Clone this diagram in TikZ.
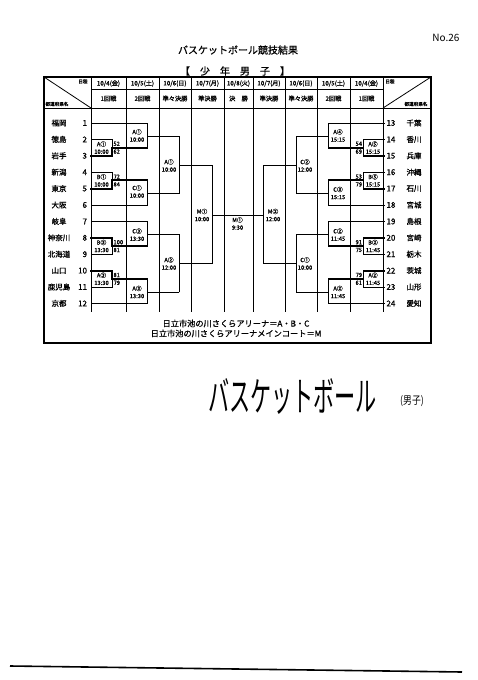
\documentclass[tikz,border=0pt]{standalone}
\usepackage{fontspec}
\newfontfamily\jp{Noto Sans CJK JP}
\newfontfamily\jpb{Noto Sans CJK JP}[FakeBold=0.8]
\newcommand\lblfont{\jpb\fontsize{5.8}{7.5}\selectfont}
\newcommand\teamfont{\jpb\fontsize{7.5}{8}\selectfont}
\newcommand\numfont{\jpb\fontsize{8}{8}\selectfont}
\newcommand\hdfont{\jpb\fontsize{6.2}{7}\selectfont}
\newcommand\tinyfont{\jpb\fontsize{4.6}{5}\selectfont}
\newcommand\halfbracket{%
  \draw[ln] (91,123)--(147,123);
  \draw[ln] (91,139.4)--(112,139.4)--(112,147.6);
  \draw[win] (91,155.8)--(112,155.8)--(112,147.6)--(147,147.6);
  \draw[ln] (147,123)--(147,147.6);
  \draw[ln] (147,136.3)--(179,136.3);
  \draw[ln] (91,172.2)--(112,172.2)--(112,180.4);
  \draw[win] (91,188.6)--(112,188.6)--(112,180.4)--(147,180.4);
  \draw[ln] (91,205)--(147,205)--(147,180.4);
  \draw[ln] (147,193.7)--(179,193.7);
  \draw[ln] (179,136.3)--(179,193.7);
  \draw[ln] (179,165)--(212,165);
  \draw[ln] (91,221.4)--(147,221.4);
  \draw[win] (91,237.8)--(112,237.8)--(112,246)--(147,246);
  \draw[ln] (91,254.2)--(112,254.2)--(112,246);
  \draw[ln] (147,221.4)--(147,246);
  \draw[ln] (147,234.7)--(179,234.7);
  \draw[win] (91,270.6)--(112,270.6)--(112,278.8)--(147,278.8);
  \draw[ln] (91,287)--(112,287)--(112,278.8);
  \draw[ln] (91,303.4)--(147,303.4)--(147,278.8);
  \draw[ln] (147,292.1)--(179,292.1);
  \draw[ln] (179,234.7)--(179,292.1);
  \draw[ln] (179,263.4)--(212,263.4);
  \draw[ln] (212,165)--(212,263.4);
}
\begin{document}
\begin{tikzpicture}[x=1pt,y=-1pt,
  every node/.style={inner sep=0pt,outer sep=0pt},
  ln/.style={line width=0.75pt,line cap=rect},
  win/.style={line width=1.9pt,line cap=rect,line join=miter},
  gridl/.style={line width=0.8pt},
  frame/.style={line width=1.3pt},
  lbl/.style={font=\lblfont,align=center},
  sc/.style={font=\lblfont},
  tname/.style={font=\teamfont},
  tnum/.style={font=\numfont},
  hd/.style={font=\hdfont}]
\useasboundingbox (0,0) rectangle (478,680);
\fill[white] (0,0) rectangle (478,680);

% headings
\node[font=\jp\fontsize{10}{10}\selectfont] (no) at (446,38) {No.26};
\node[font=\jpb\fontsize{10}{10}\selectfont] (title) at (238,50) {バスケットボール競技結果};
\node[font=\jpb\fontsize{10}{10}\selectfont] (sub) at (235,71) {【　少　年　男　子　】};

% table frame and grid
\draw[frame] (44,77) rectangle (431,343);
\draw[gridl] (91,89)--(383,89);
\draw[gridl] (44,108)--(431,108);
\foreach \x in {91,126,159,191,224,253,285,317,350,383}
  \draw[gridl] (\x,77)--(\x,312);
\draw[gridl] (44,77)--(91,108);
\draw[gridl] (383,108)--(431,77);
\node[font=\tinyfont] (hl1) at (83,81.5) {日程};
\node[font=\tinyfont] (hl2) at (57,104) {都道府県名};
\node[font=\tinyfont] (hr1) at (390,81.5) {日程};
\node[font=\tinyfont] (hr2) at (416,104) {都道府県名};

% header dates
\node[hd] (d1) at (108.5,83.5) {10/4(金)};
\node[hd] (d2) at (142.5,83.5) {10/5(土)};
\node[hd] (d3) at (175,83.5) {10/6(日)};
\node[hd] (d4) at (207.5,83.5) {10/7(月)};
\node[hd] (d5) at (238.5,83.5) {10/8(火)};
\node[hd] (d6) at (269,83.5) {10/7(月)};
\node[hd] (d7) at (301,83.5) {10/6(日)};
\node[hd] (d8) at (333.5,83.5) {10/5(土)};
\node[hd] (d9) at (366.5,83.5) {10/4(金)};
% header rounds
\foreach \cx/\r [count=\i] in {108.5/1回戦, 142.5/2回戦, 175/準々決勝, 207.5/準決勝, 238.5/決　勝, 269/準決勝, 301/準々決勝, 333.5/2回戦, 366.5/1回戦}{
  \node[hd] (r\i) at (\cx,98.5) {\r};
}

% teams left
\foreach \n/\nm [count=\i] in {1/福岡,2/徳島,3/岩手,4/新潟,5/東京,6/大阪,7/岐阜,8/神奈川,9/北海道,10/山口,11/鹿児島,12/京都}{
  \pgfmathsetmacro\yy{123+16.4*(\i-1)}
  \node[tname] (L\i) at (59,\yy) {\nm};
  \node[tnum,anchor=east] (LN\i) at (87,\yy) {\n};
}
% teams right
\foreach \n/\nm [count=\i] in {13/千葉,14/香川,15/兵庫,16/沖縄,17/石川,18/宮城,19/島根,20/宮崎,21/栃木,22/茨城,23/山形,24/愛知}{
  \pgfmathsetmacro\yy{123+16.4*(\i-1)}
  \node[tname] (R\i) at (414,\yy) {\nm};
  \node[tnum,anchor=west] (RN\i) at (386.5,\yy) {\n};
}

% brackets
\halfbracket
\begin{scope}[xshift=475.5pt,xscale=-1]
\halfbracket
\end{scope}
\draw[ln] (212,215)--(263.5,215);

% left round 1
\node[lbl] (l11) at (101.5,147.6) {A①\\10:00};
\node[sc,anchor=west] (s1) at (113.5,143.8) {52};
\node[sc,anchor=west] (s2) at (113.5,151.6) {62};
\node[lbl] (l12) at (101.5,180.4) {B①\\10:00};
\node[sc,anchor=west] (s3) at (113.5,176.6) {72};
\node[sc,anchor=west] (s4) at (113.5,184.4) {84};
\node[lbl] (l13) at (101.5,246) {B③\\13:30};
\node[sc,anchor=west] (s5) at (113.5,242.2) {100};
\node[sc,anchor=west] (s6) at (113.5,250) {81};
\node[lbl] (l14) at (101.5,278.8) {A③\\13:30};
\node[sc,anchor=west] (s7) at (113.5,275) {81};
\node[sc,anchor=west] (s8) at (113.5,282.8) {79};
% right round 1
\node[lbl] (r11) at (373,147.6) {A⑤\\15:15};
\node[sc,anchor=east] (s9) at (362,143.8) {54};
\node[sc,anchor=east] (s10) at (362,151.6) {69};
\node[lbl] (r12) at (373,180.4) {B⑤\\15:15};
\node[sc,anchor=east] (s11) at (362,176.6) {53};
\node[sc,anchor=east] (s12) at (362,184.4) {79};
\node[lbl] (r13) at (373,246) {B②\\11:45};
\node[sc,anchor=east] (s13) at (362,242.2) {91};
\node[sc,anchor=east] (s14) at (362,250) {75};
\node[lbl] (r14) at (373,278.8) {A②\\11:45};
\node[sc,anchor=east] (s15) at (362,275) {79};
\node[sc,anchor=east] (s16) at (362,282.8) {61};

% round 2
\node[lbl] (l21) at (137,135.5) {A①\\10:00};
\node[lbl] (l22) at (137,191.5) {C①\\10:00};
\node[lbl] (l23) at (137,234.7) {C③\\13:30};
\node[lbl] (l24) at (137,292) {A③\\13:30};
\node[lbl] (r21) at (338,135.5) {A④\\15:15};
\node[lbl] (r22) at (338,193) {C③\\15:15};
\node[lbl] (r23) at (338,234.7) {C②\\11:45};
\node[lbl] (r24) at (338,292) {A②\\11:45};
% quarter finals
\node[lbl] (lq1) at (169,165.5) {A①\\10:00};
\node[lbl] (lq2) at (169,263.5) {A②\\12:00};
\node[lbl] (rq1) at (305,165.5) {C②\\12:00};
\node[lbl] (rq2) at (305,263.5) {C①\\10:00};
% semi finals and final
\node[lbl] (ls) at (202,215) {M①\\10:00};
\node[lbl] (rs) at (273,215) {M②\\12:00};
\node[lbl] (fin) at (237.5,223.5) {M①\\9:30};

% venue notes
\node[font=\jpb\fontsize{8.2}{8.2}\selectfont] (v1) at (236,323.5) {日立市池の川さくらアリーナ＝A・B・C};
\node[font=\jpb\fontsize{8.2}{8.2}\selectfont] (v2) at (236,333.5) {日立市池の川さくらアリーナメインコート＝M};

% handwritten caption
\node[anchor=west] (hand) at (208,397) {\resizebox*{169pt}{36pt}{\jp バスケットボール}};
\node[font=\jp\fontsize{11}{11}\selectfont,xscale=0.8] (hand2) at (412,401) {(男子)};

% bottom rule
\draw[line width=1.6pt] (10,666)--(462,672);
\end{tikzpicture}
\end{document}
